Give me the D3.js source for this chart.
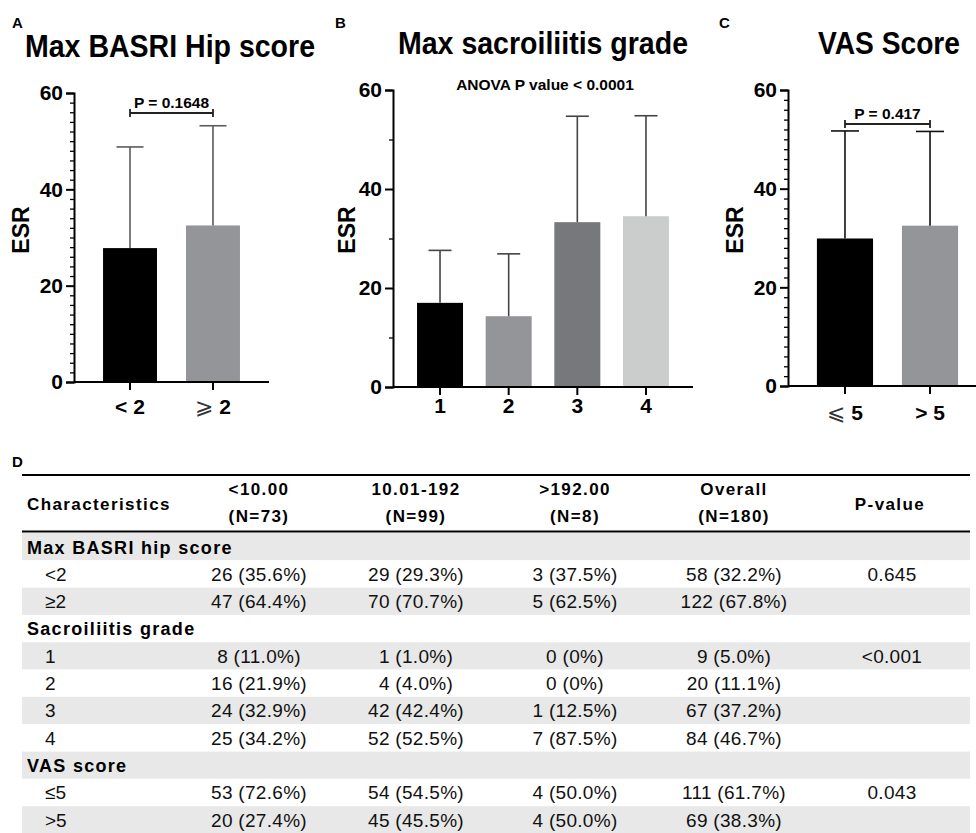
<!DOCTYPE html>
<html><head><meta charset="utf-8">
<script src="https://cdn.jsdelivr.net/npm/d3@7"></script>
<style>
html,body{margin:0;padding:0;background:#fff;}
svg{display:block;font-family:"Liberation Sans",Arial,sans-serif;}
</style></head>
<body>
<svg id="chart" width="976" height="833"></svg>
<script>
// ---------- DATA ----------
const catsA = ["< 2", "\u2A7E 2"];
const meanA = [27.8, 32.5];
const sdA = [21.0, 20.7];
const colorsA = ["#000000", "#939598"];

const catsB = ["1", "2", "3", "4"];
const meanB = [17.0, 14.3, 33.3, 34.5];
const sdB = [10.6, 12.6, 21.4, 20.3];
const colorsB = ["#000000", "#939598", "#77787b", "#cbcccc"];

const catsC = ["\u2A7D 5", "> 5"];
const meanC = [29.9, 32.5];
const sdC = [21.8, 19.1];
const colorsC = ["#000000", "#939598"];

const yTicks = [0, 20, 40, 60];

const tableHeadTop = ["<10.00", "10.01-192", ">192.00", "Overall"];
const tableHeadBottom = ["(N=73)", "(N=99)", "(N=8)", "(N=180)"];
const rowLabels = ["Max BASRI hip score", "<2", "\u22652", "Sacroiliitis grade", "1", "2", "3", "4", "VAS score", "\u22645", ">5"];
const rowIsSection = [true, false, false, true, false, false, false, false, true, false, false];
const colLow = ["", "26 (35.6%)", "47 (64.4%)", "", "8 (11.0%)", "16 (21.9%)", "24 (32.9%)", "25 (34.2%)", "", "53 (72.6%)", "20 (27.4%)"];
const colMid = ["", "29 (29.3%)", "70 (70.7%)", "", "1 (1.0%)", "4 (4.0%)", "42 (42.4%)", "52 (52.5%)", "", "54 (54.5%)", "45 (45.5%)"];
const colHigh = ["", "3 (37.5%)", "5 (62.5%)", "", "0 (0%)", "0 (0%)", "1 (12.5%)", "7 (87.5%)", "", "4 (50.0%)", "4 (50.0%)"];
const colAll = ["", "58 (32.2%)", "122 (67.8%)", "", "9 (5.0%)", "20 (11.1%)", "67 (37.2%)", "84 (46.7%)", "", "111 (61.7%)", "69 (38.3%)"];
const colP = ["", "0.645", "", "", "<0.001", "", "", "", "", "0.043", ""];

// ---------- DRAW ----------
const svg = d3.select("#chart");

function panel(cfg) {
  const g = svg.append("g");
  const y = d3.scaleLinear().domain([0, 60]).range([cfg.y0, cfg.y60]);
  const x = d3.scaleBand().domain(cfg.cats).range([cfg.ax, cfg.xEnd])
    .paddingInner(cfg.pi).paddingOuter(cfg.po);

  // panel letter
  g.append("text").attr("x", cfg.letterX).attr("y", 28)
    .attr("font-size", 15).attr("font-weight", "bold").text(cfg.letter);
  // title
  g.append("text").attr("x", cfg.titleX).attr("y", cfg.titleY)
    .attr("text-anchor", "middle").attr("font-size", 31).attr("font-weight", "bold")
    .attr("textLength", cfg.titleLen).attr("lengthAdjust", "spacingAndGlyphs")
    .text(cfg.title);

  // bars
  g.selectAll("rect.bar").data(cfg.means).enter().append("rect")
    .attr("x", (d, i) => x(cfg.cats[i]))
    .attr("width", x.bandwidth())
    .attr("y", d => y(d))
    .attr("height", d => y(0) - y(d))
    .attr("fill", (d, i) => cfg.colors[i]);

  // error bars (upper only)
  cfg.means.forEach((m, i) => {
    const cx = x(cfg.cats[i]) + x.bandwidth() / 2;
    const top = y(m + cfg.sds[i]);
    g.append("line").attr("x1", cx).attr("x2", cx).attr("y1", y(m)).attr("y2", top)
      .attr("stroke", cfg.errColor).attr("stroke-width", 1.6);
    g.append("line").attr("x1", cx - cfg.cap).attr("x2", cx + cfg.cap).attr("y1", top).attr("y2", top)
      .attr("stroke", cfg.errColor).attr("stroke-width", 1.6);
  });

  // y axis
  const ya = g.append("g").attr("transform", `translate(${cfg.ax},0)`)
    .call(d3.axisLeft(y).tickValues(yTicks).tickSize(8).tickPadding(3).tickFormat(d3.format("d")));
  ya.select(".domain").attr("stroke", "#000").attr("stroke-width", 2);
  ya.selectAll(".tick line").attr("stroke", "#000").attr("stroke-width", 2);
  ya.selectAll(".tick text").attr("font-size", 21).attr("font-weight", "bold")
    .attr("font-family", "Liberation Sans, Arial, sans-serif").attr("fill", "#000");
  const ym = g.append("g").attr("transform", `translate(${cfg.ax},0)`)
    .call(d3.axisLeft(y).tickValues(cfg.minor).tickSize(4).tickFormat(""));
  ym.select(".domain").remove();
  ym.selectAll(".tick line").attr("stroke", "#000").attr("stroke-width", 1.3);

  // x axis
  const xa = g.append("g").attr("transform", `translate(0,${cfg.y0})`)
    .call(d3.axisBottom(x).tickSize(8).tickPadding(cfg.xPad).tickSizeOuter(0));
  xa.select(".domain").attr("stroke", "#000").attr("stroke-width", 2)
    .attr("d", `M${cfg.ax},0H${Math.min(cfg.xEnd, 976)}`);
  xa.selectAll(".tick line").attr("stroke", "#000").attr("stroke-width", 2);
  xa.selectAll(".tick text").attr("font-size", 21).attr("font-weight", "bold")
    .attr("font-family", "Liberation Sans, Arial, sans-serif").attr("fill", "#000")
    .each(function (d) {
      const t = d3.select(this);
      const s = String(d);
      if (s[0] === "\u2A7E" || s[0] === "\u2A7D") {
        t.text(null);
        t.append("tspan").attr("font-family", "DejaVu Sans").attr("font-weight", "normal")
          .attr("font-size", 22).attr("fill", "#333").text(s[0]);
        t.append("tspan").text(s.slice(1));
      }
    });

  // y label
  g.append("text").attr("transform", `translate(${cfg.labX},230) rotate(-90)`)
    .attr("text-anchor", "middle").attr("font-size", 23).attr("font-weight", "bold").text("ESR");

  // significance bracket
  if (cfg.bracket) {
    const x1 = x(cfg.cats[0]) + x.bandwidth() / 2;
    const x2 = x(cfg.cats[1]) + x.bandwidth() / 2;
    const by = cfg.bracket.y;
    g.append("path").attr("d", `M${x1},${by - 4}V${by + 4}M${x1},${by}H${x2}M${x2},${by - 4}V${by + 4}`)
      .attr("stroke", "#222").attr("stroke-width", 1.8).attr("fill", "none");
    g.append("text").attr("x", (x1 + x2) / 2).attr("y", by - 5.5).attr("text-anchor", "middle")
      .attr("font-size", 15.5).attr("font-weight", "bold").text(cfg.bracket.text);
  }
  if (cfg.note) {
    g.append("text").attr("x", cfg.note.x).attr("y", cfg.note.y).attr("text-anchor", "middle")
      .attr("font-size", 15.5).attr("font-weight", "bold").text(cfg.note.text);
  }
}

const minor2 = d3.range(2, 60, 2).filter(v => v % 20 !== 0);

panel({
  letter: "A", letterX: 12, title: "Max BASRI Hip score", titleX: 170, titleY: 57, titleLen: 290,
  cats: catsA, means: meanA, sds: sdA, colors: colorsA,
  ax: 74, xEnd: 269, pi: 0.35, po: 0.35, y0: 382, y60: 93, minor: minor2,
  errColor: "#5a5b5d", cap: 13.5, xPad: 9, labX: 29,
  bracket: { y: 113, text: "P = 0.1648" }
});
panel({
  letter: "B", letterX: 335, title: "Max sacroiliitis grade", titleX: 543, titleY: 54, titleLen: 290,
  cats: catsB, means: meanB, sds: sdB, colors: colorsB,
  ax: 393, xEnd: 693, pi: 0.33, po: 0.35, y0: 387, y60: 90, minor: [10, 30, 50],
  errColor: "#444", cap: 11.5, xPad: 3, labX: 355,
  note: { x: 545, y: 90, text: "ANOVA P value < 0.0001" }
});
panel({
  letter: "C", letterX: 719, title: "VAS Score", titleX: 889, titleY: 54, titleLen: 142,
  cats: catsC, means: meanC, sds: sdC, colors: colorsC,
  ax: 788, xEnd: 987, pi: 0.34, po: 0.34, y0: 386, y60: 90, minor: minor2,
  errColor: "#111", cap: 14, xPad: 11, labX: 743,
  bracket: { y: 124, text: "P = 0.417" }
});

// ---------- TABLE ----------
const tg = svg.append("g");
const tL = 22, tR = 970;
const colX = d3.scalePoint().domain([0, 1, 2, 3, 4]).range([259, 892]);
const colCenters = [259, 416, 575, 734, 892];
const rowY = d3.scaleBand().domain(d3.range(rowLabels.length)).range([533, 833.5]);

tg.append("text").attr("x", 12).attr("y", 467).attr("font-size", 15).attr("font-weight", "bold").text("D");

// row bands
tg.selectAll("rect.band").data(rowLabels).enter().append("rect")
  .attr("x", tL).attr("width", tR - tL)
  .attr("y", (d, i) => rowY(i)).attr("height", rowY.bandwidth())
  .attr("fill", (d, i) => i % 2 === 0 ? "#e7e8e7" : "#ffffff");

// rules
tg.append("line").attr("x1", tL).attr("x2", tR).attr("y1", 475).attr("y2", 475).attr("stroke", "#000").attr("stroke-width", 2.2);
tg.append("line").attr("x1", tL).attr("x2", tR).attr("y1", 531.5).attr("y2", 531.5).attr("stroke", "#000").attr("stroke-width", 2.2);

// header
const hs = { size: 17, ls: 1.4 };
tg.append("text").attr("x", 27).attr("y", 510).attr("font-size", hs.size).attr("font-weight", "bold")
  .attr("letter-spacing", hs.ls).text("Characteristics");
tableHeadTop.forEach((t, i) => {
  tg.append("text").attr("x", colCenters[i]).attr("y", 495).attr("text-anchor", "middle")
    .attr("font-size", hs.size).attr("font-weight", "bold").attr("letter-spacing", hs.ls).text(t);
  tg.append("text").attr("x", colCenters[i]).attr("y", 522).attr("text-anchor", "middle")
    .attr("font-size", hs.size).attr("font-weight", "bold").attr("letter-spacing", hs.ls).text(tableHeadBottom[i]);
});
tg.append("text").attr("x", 890).attr("y", 510).attr("text-anchor", "middle")
  .attr("font-size", hs.size).attr("font-weight", "bold").attr("letter-spacing", hs.ls).text("P-value");

// body
const cols = [colLow, colMid, colHigh, colAll, colP];
rowLabels.forEach((lab, i) => {
  const by = rowY(i) + 20.5;
  if (rowIsSection[i]) {
    tg.append("text").attr("x", 27).attr("y", by).attr("font-size", 18).attr("font-weight", "bold")
      .attr("letter-spacing", 1.3).text(lab);
  } else {
    tg.append("text").attr("x", 45).attr("y", by).attr("font-size", 19).attr("fill", "#111").text(lab);
  }
  cols.forEach((c, j) => {
    if (c[i]) {
      tg.append("text").attr("x", colCenters[j]).attr("y", by).attr("text-anchor", "middle")
        .attr("font-size", 19).attr("letter-spacing", 0.3).attr("fill", "#111").text(c[i]);
    }
  });
});
</script>
</body></html>
